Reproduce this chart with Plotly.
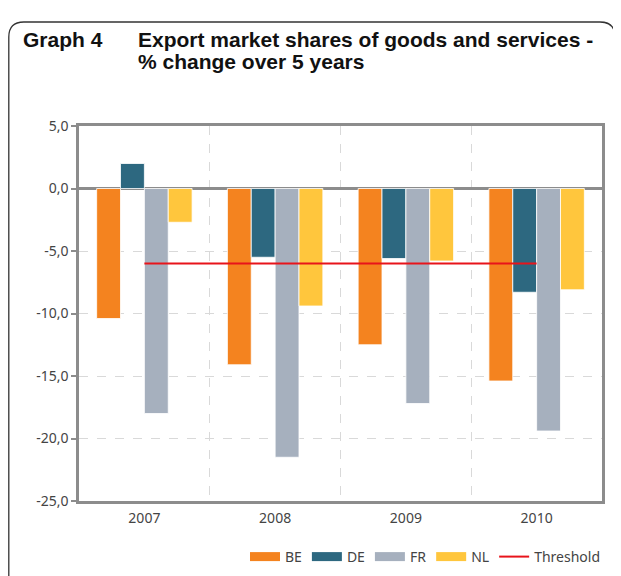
import plotly.graph_objects as go

# data
years = ["2007", "2008", "2009", "2010"]
be = [-10.4, -14.1, -12.5, -15.4]
de = [2.0, -5.5, -5.6, -8.3]
fr = [-18.0, -21.5, -17.2, -19.4]
nl = [-2.7, -9.4, -5.8, -8.1]
threshold = [-6.0, -6.0, -6.0, -6.0]
ytick_vals = [5, 0, -5, -10, -15, -20, -25]
ytick_text = ["5,0", "0,0", "-5,0", "-10,0", "-15,0", "-20,0", "-25,0"]

series = [("BE", be, "#F4831F"), ("DE", de, "#2D6880"),
          ("FR", fr, "#A6B0BE"), ("NL", nl, "#FFC63D")]

# the page body adds an 8px margin, so the figure is 8px smaller
OFF = 8
W, H = 621 - OFF, 576 - OFF
L, T = 79 - OFF, 126 - OFF
R, B = W - (602 - OFF), H - (501 - OFF)
pw, ph = W - L - R, H - T - B


def px(x):
    # reference screen x -> paper
    return (x - OFF - L) / pw


def py(y):
    # reference screen y -> paper
    return (H - B - (y - OFF)) / ph


fig = go.Figure()
for name, vals, col in series:
    fig.add_trace(go.Bar(x=years, y=vals, name=name, marker_color=col,
                         marker_line=dict(color="rgba(255,255,255,0.8)", width=1),
                         showlegend=False))
    # wide legend swatch
    fig.add_trace(go.Scatter(x=[None], y=[None], name=name, mode="lines",
                             line=dict(color=col, width=9)))

fig.add_trace(go.Scatter(x=years, y=threshold, name="Threshold", mode="lines",
                         line=dict(color="#E8141B", width=2)))

fig.update_layout(
    width=W, height=H,
    margin=dict(l=L, r=R, t=T, b=B, autoexpand=False),
    paper_bgcolor="white", plot_bgcolor="white",
    barmode="group", bargap=0.27, bargroupgap=0,
    font=dict(family="Noto Sans, Open Sans, sans-serif", size=14, color="#444444"),
    legend=dict(orientation="h", x=px(606), xanchor="right", y=py(557), yanchor="middle",
                font=dict(size=14, color="#444444"),
                traceorder="normal", tracegroupgap=0),
)

fig.update_yaxes(range=[-25, 5], tickvals=ytick_vals, ticktext=ytick_text,
                 showgrid=True, gridcolor="#d9d9d9", griddash="dash", gridwidth=1,
                 zeroline=True, zerolinecolor="#8c8c8c", zerolinewidth=3,
                 showline=True, linecolor="#8c8c8c", linewidth=2.5, mirror=True,
                 ticks="outside", ticklen=5, tickcolor="#8c8c8c", tickwidth=2)
fig.update_xaxes(type="category", tickson="boundaries",
                 showgrid=True, gridcolor="#d9d9d9", griddash="dash", gridwidth=1,
                 showline=True, linecolor="#8c8c8c", linewidth=2.5, mirror=True,
                 ticks="", ticklabelstandoff=2)

# rounded outer frame
x0, x1 = px(8.8), px(615)
y0, y1 = py(600), py(22)
rx, ry = 15 / pw, 15 / ph
path = (f"M {x0},{y0} L {x0},{y1 - ry} Q {x0},{y1} {x0 + rx},{y1} "
        f"L {x1 - rx},{y1} Q {x1},{y1} {x1},{y1 - ry} L {x1},{y0}")
fig.add_shape(type="path", path=path, xref="paper", yref="paper",
              line=dict(color="#333333", width=1.3))

title_font = dict(family="Liberation Sans, Arial, sans-serif", size=21, color="#111111")
fig.add_annotation(text="<b>Graph 4</b>", xref="paper", yref="paper",
                   x=px(21), y=py(39), xanchor="left", yanchor="middle",
                   showarrow=False, font=title_font)
fig.add_annotation(text="<b>Export market shares of goods and services -</b>",
                   xref="paper", yref="paper", x=px(136), y=py(39),
                   xanchor="left", yanchor="middle", showarrow=False, font=title_font)
fig.add_annotation(text="<b>% change over 5 years</b>",
                   xref="paper", yref="paper", x=px(136), y=py(61),
                   xanchor="left", yanchor="middle", showarrow=False, font=title_font)

fig.write_html("out.html")
